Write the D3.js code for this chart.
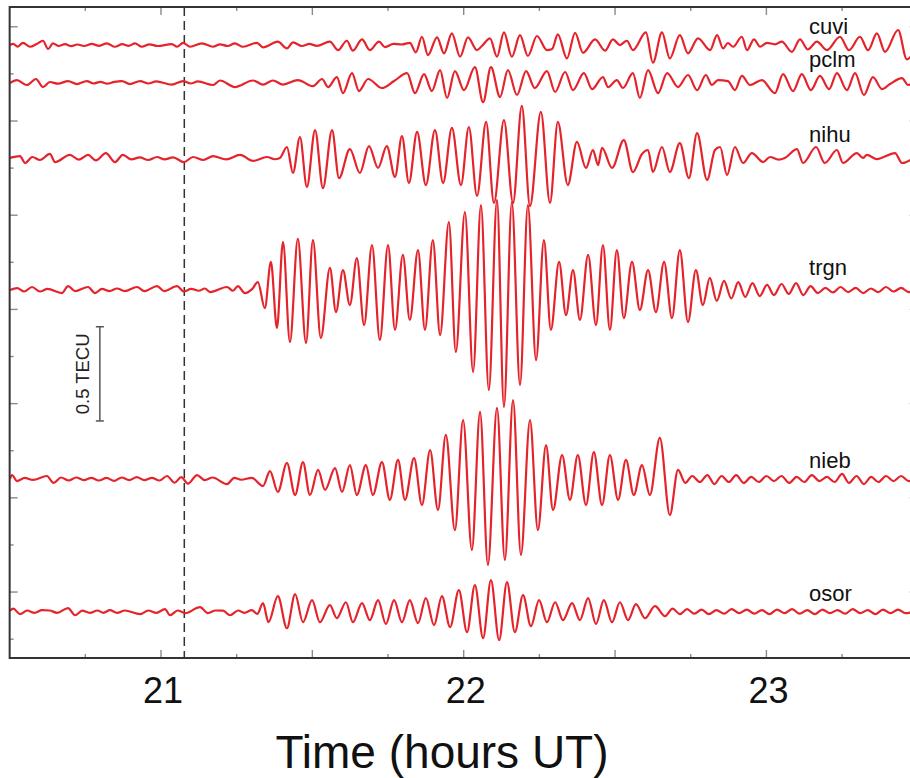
<!DOCTYPE html>
<html>
<head>
<meta charset="utf-8">
<script src="https://cdn.jsdelivr.net/npm/d3@7"></script>
<style>
  body { margin: 0; background: #fff; }
  svg { display: block; font-family: "Liberation Sans", Arial, Helvetica, sans-serif; }
</style>
</head>
<body>
<svg id="chart" width="910" height="778"></svg>
<script>
// Station names and their vertical offsets (TECU) on the stacked plot
const stations = ["cuvi", "pclm", "nihu", "trgn", "nieb", "osor"];
const offsets = [2.903, 2.704, 2.301, 1.603, 0.600, -0.104];

// Filtered TEC series, read as [time (hours UT), dTEC (TECU)] turning points
const cuvi = [[20.501,0.000],[20.512,0.006],[20.526,-0.008],[20.544,0.012],[20.567,-0.009],[20.589,0.005],[20.610,0.023],[20.627,-0.021],[20.643,0.009],[20.662,-0.005],[20.683,0.005],[20.704,-0.006],[20.724,0.003],[20.746,-0.005],[20.771,0.006],[20.796,-0.004],[20.821,0.009],[20.848,-0.009],[20.872,0.005],[20.893,-0.004],[20.914,0.009],[20.937,-0.009],[20.962,0.004],[20.988,-0.005],[21.036,0.005],[21.053,-0.009],[21.073,0.012],[21.096,-0.009],[21.135,0.009],[21.172,-0.009],[21.195,0.004],[21.220,-0.005],[21.244,0.009],[21.271,-0.009],[21.317,0.012],[21.337,-0.012],[21.386,0.018],[21.416,-0.018],[21.436,0.014],[21.466,-0.005],[21.490,0.006],[21.515,-0.004],[21.558,0.018],[21.585,-0.027],[21.614,0.023],[21.634,-0.030],[21.664,0.030],[21.690,-0.027],[21.720,0.018],[21.740,-0.011],[21.768,0.006],[21.795,0.003],[21.822,0.012],[21.842,-0.039],[21.862,0.044],[21.882,-0.053],[21.912,0.041],[21.935,-0.044],[21.961,0.062],[21.988,-0.062],[22.014,0.041],[22.044,-0.027],[22.060,-0.005],[22.087,0.036],[22.110,-0.062],[22.133,0.067],[22.159,-0.062],[22.186,0.053],[22.212,-0.058],[22.242,0.048],[22.275,-0.027],[22.292,-0.021],[22.311,0.057],[22.341,-0.071],[22.368,0.065],[22.394,-0.041],[22.434,0.030],[22.467,-0.030],[22.493,0.030],[22.516,0.000],[22.539,0.023],[22.559,-0.027],[22.602,0.067],[22.625,-0.094],[22.655,0.067],[22.681,-0.071],[22.714,0.053],[22.741,-0.044],[22.774,0.036],[22.814,-0.027],[22.837,0.053],[22.857,-0.018],[22.873,0.011],[22.890,-0.009],[22.919,0.044],[22.936,-0.027],[22.959,0.030],[22.979,-0.009],[23.002,0.012],[23.028,0.004],[23.051,0.018],[23.084,-0.036],[23.111,0.030],[23.137,-0.023],[23.167,0.018],[23.200,-0.027],[23.243,0.044],[23.273,-0.027],[23.309,0.044],[23.336,-0.027],[23.365,0.062],[23.392,-0.036],[23.435,0.080],[23.464,-0.076],[23.491,-0.027]];

const pclm = [[20.501,-0.003],[20.524,0.013],[20.557,-0.013],[20.587,0.019],[20.610,-0.024],[20.633,0.003],[20.660,-0.006],[20.693,0.008],[20.722,-0.008],[20.755,0.008],[20.777,-0.005],[20.800,0.004],[20.822,-0.006],[20.846,0.004],[20.871,0.008],[20.897,-0.008],[20.931,0.008],[20.958,-0.005],[20.984,0.006],[21.036,-0.011],[21.073,0.008],[21.098,-0.005],[21.122,0.006],[21.172,-0.013],[21.195,0.011],[21.244,-0.024],[21.304,0.011],[21.337,-0.011],[21.370,0.011],[21.403,-0.011],[21.452,0.013],[21.502,-0.019],[21.532,0.019],[21.552,-0.024],[21.581,0.029],[21.601,-0.056],[21.631,0.050],[21.654,-0.045],[21.684,0.019],[21.730,-0.029],[21.770,0.008],[21.813,0.050],[21.839,-0.056],[21.869,0.045],[21.895,-0.045],[21.922,0.066],[21.945,-0.082],[21.971,0.061],[22.001,-0.040],[22.037,0.082],[22.064,-0.104],[22.090,0.082],[22.120,-0.077],[22.146,0.066],[22.176,-0.066],[22.206,0.061],[22.235,-0.029],[22.275,0.061],[22.302,-0.050],[22.335,0.056],[22.361,-0.040],[22.397,0.050],[22.424,-0.035],[22.460,0.029],[22.477,-0.024],[22.506,0.013],[22.526,-0.029],[22.559,0.050],[22.582,-0.082],[22.609,0.066],[22.642,-0.056],[22.672,0.050],[22.708,-0.024],[22.741,0.040],[22.771,-0.040],[22.800,0.040],[22.820,-0.013],[22.840,0.013],[22.873,0.008],[22.896,-0.040],[22.919,0.035],[22.946,-0.013],[22.985,0.013],[23.028,-0.056],[23.055,0.045],[23.088,-0.045],[23.117,0.045],[23.147,-0.040],[23.177,0.035],[23.207,-0.035],[23.233,0.050],[23.266,-0.040],[23.293,0.050],[23.322,-0.066],[23.352,0.029],[23.382,-0.035],[23.408,-0.008],[23.448,0.024],[23.468,-0.013],[23.491,0.003]];

const nihu = [[20.501,0.003],[20.534,0.013],[20.551,-0.024],[20.575,0.008],[20.600,-0.008],[20.633,0.024],[20.650,-0.019],[20.699,0.019],[20.728,-0.006],[20.759,0.019],[20.785,-0.010],[20.818,0.029],[20.848,-0.019],[20.874,0.019],[20.902,-0.005],[20.930,0.006],[20.958,-0.008],[20.987,0.008],[21.012,-0.005],[21.040,0.006],[21.076,-0.019],[21.106,0.008],[21.140,-0.008],[21.172,0.013],[21.215,-0.005],[21.261,0.019],[21.304,-0.013],[21.350,0.008],[21.375,-0.004],[21.393,0.003],[21.416,0.061],[21.436,-0.077],[21.459,0.114],[21.482,-0.151],[21.509,0.151],[21.535,-0.157],[21.565,0.151],[21.588,-0.104],[21.624,0.050],[21.657,-0.077],[21.687,0.066],[21.717,-0.050],[21.746,0.066],[21.773,-0.098],[21.796,0.119],[21.819,-0.130],[21.846,0.141],[21.875,-0.141],[21.905,0.151],[21.932,-0.130],[21.961,0.162],[21.991,-0.141],[22.017,0.167],[22.044,-0.199],[22.074,0.194],[22.100,-0.236],[22.133,0.204],[22.163,-0.236],[22.192,0.279],[22.219,-0.252],[22.255,0.247],[22.285,-0.236],[22.311,0.194],[22.344,-0.141],[22.374,0.088],[22.404,-0.050],[22.427,0.045],[22.444,-0.035],[22.457,0.056],[22.490,-0.050],[22.529,0.098],[22.559,-0.072],[22.589,0.024],[22.609,0.045],[22.625,-0.072],[22.655,0.061],[22.681,-0.072],[22.714,0.082],[22.744,-0.104],[22.771,0.135],[22.804,-0.114],[22.830,0.045],[22.847,0.061],[22.870,-0.088],[22.896,0.061],[22.923,-0.024],[22.952,0.029],[22.989,-0.019],[23.012,0.008],[23.040,-0.006],[23.061,0.003],[23.101,0.050],[23.121,-0.024],[23.164,0.061],[23.193,-0.024],[23.233,0.045],[23.253,-0.024],[23.299,0.029],[23.319,0.003],[23.332,0.019],[23.365,-0.003],[23.425,0.029],[23.448,-0.024],[23.491,0.008]];

const trgn = [[20.501,0.000],[20.525,0.010],[20.548,-0.008],[20.574,0.016],[20.600,-0.008],[20.625,0.006],[20.673,-0.016],[20.693,0.021],[20.716,-0.006],[20.759,0.016],[20.782,-0.016],[20.805,0.006],[20.830,-0.006],[20.855,0.008],[20.880,-0.006],[20.921,0.016],[20.945,-0.006],[20.987,0.021],[21.010,-0.006],[21.053,0.021],[21.075,-0.008],[21.100,0.006],[21.125,-0.004],[21.145,0.008],[21.162,-0.011],[21.218,0.016],[21.238,-0.004],[21.254,0.021],[21.277,-0.016],[21.301,0.005],[21.320,0.042],[21.343,-0.096],[21.363,0.149],[21.383,-0.202],[21.403,0.255],[21.426,-0.276],[21.452,0.271],[21.479,-0.281],[21.502,0.265],[21.528,-0.255],[21.558,0.117],[21.578,-0.117],[21.601,0.106],[21.624,-0.080],[21.647,0.170],[21.671,-0.186],[21.697,0.239],[21.723,-0.265],[21.750,0.239],[21.773,-0.212],[21.799,0.186],[21.822,-0.159],[21.849,0.212],[21.872,-0.212],[21.898,0.265],[21.922,-0.239],[21.951,0.361],[21.974,-0.329],[22.004,0.414],[22.031,-0.435],[22.057,0.451],[22.083,-0.531],[22.110,0.478],[22.133,-0.621],[22.159,0.467],[22.186,-0.504],[22.212,0.451],[22.239,-0.372],[22.265,0.265],[22.288,-0.212],[22.315,0.149],[22.338,-0.133],[22.361,0.106],[22.384,-0.159],[22.411,0.186],[22.437,-0.186],[22.460,0.239],[22.483,-0.212],[22.506,0.212],[22.529,-0.149],[22.556,0.149],[22.582,-0.106],[22.609,0.106],[22.635,-0.117],[22.662,0.149],[22.688,-0.149],[22.714,0.212],[22.741,-0.170],[22.767,0.106],[22.790,-0.080],[22.813,0.064],[22.836,-0.058],[22.860,0.048],[22.884,-0.045],[22.907,0.042],[22.930,-0.037],[22.954,0.037],[22.978,-0.032],[23.002,0.027],[23.025,-0.027],[23.050,0.032],[23.074,-0.021],[23.098,0.037],[23.122,-0.027],[23.146,0.021],[23.170,-0.016],[23.195,0.011],[23.220,-0.013],[23.245,0.016],[23.270,-0.011],[23.295,0.011],[23.320,-0.016],[23.345,0.008],[23.370,-0.011],[23.395,0.016],[23.420,-0.008],[23.445,0.011],[23.470,-0.011],[23.491,0.003]];

const nieb = [[20.501,0.000],[20.508,0.021],[20.524,-0.011],[20.550,0.006],[20.577,-0.005],[20.623,0.016],[20.645,-0.021],[20.670,0.008],[20.695,-0.008],[20.720,0.008],[20.745,-0.006],[20.770,0.006],[20.795,-0.008],[20.820,0.006],[20.845,-0.010],[20.870,0.008],[20.895,-0.006],[20.920,0.010],[20.945,-0.006],[20.970,0.006],[20.995,-0.008],[21.020,0.016],[21.045,-0.020],[21.067,0.010],[21.089,-0.025],[21.119,0.021],[21.145,-0.006],[21.170,0.008],[21.218,-0.027],[21.242,0.006],[21.265,-0.004],[21.300,0.006],[21.337,-0.037],[21.360,0.042],[21.386,-0.069],[21.416,0.085],[21.443,-0.085],[21.469,0.090],[21.492,-0.085],[21.519,0.048],[21.542,-0.058],[21.575,0.058],[21.598,-0.069],[21.624,0.074],[21.647,-0.085],[21.677,0.074],[21.700,-0.085],[21.730,0.090],[21.756,-0.111],[21.783,0.101],[21.806,-0.111],[21.836,0.111],[21.862,-0.138],[21.889,0.154],[21.915,-0.165],[21.941,0.234],[21.971,-0.271],[21.998,0.313],[22.027,-0.377],[22.054,0.356],[22.080,-0.456],[22.110,0.377],[22.136,-0.430],[22.163,0.419],[22.189,-0.403],[22.219,0.313],[22.245,-0.271],[22.272,0.180],[22.295,-0.165],[22.325,0.127],[22.351,-0.111],[22.377,0.127],[22.404,-0.138],[22.430,0.143],[22.457,-0.138],[22.483,0.127],[22.510,-0.111],[22.536,0.101],[22.562,-0.085],[22.589,0.074],[22.615,-0.085],[22.648,0.218],[22.681,-0.191],[22.708,0.048],[22.732,-0.021],[22.755,0.016],[22.780,-0.016],[22.805,0.021],[22.828,-0.027],[22.852,0.016],[22.876,-0.016],[22.900,0.021],[22.925,-0.021],[22.950,0.011],[22.975,-0.016],[23.000,0.016],[23.025,-0.011],[23.050,0.016],[23.075,-0.021],[23.100,0.011],[23.125,-0.016],[23.150,0.021],[23.175,-0.011],[23.200,0.011],[23.225,-0.016],[23.250,0.027],[23.273,-0.021],[23.298,0.016],[23.322,-0.027],[23.346,0.011],[23.370,-0.016],[23.395,0.016],[23.420,-0.011],[23.445,0.016],[23.470,-0.011],[23.491,0.003]];

const osor = [[20.501,0.005],[20.512,0.016],[20.534,-0.013],[20.558,0.006],[20.582,-0.006],[20.607,0.008],[20.632,0.006],[20.657,-0.006],[20.693,0.019],[20.716,-0.019],[20.740,0.005],[20.765,-0.006],[20.790,0.006],[20.810,-0.006],[20.831,0.008],[20.855,-0.006],[20.880,0.006],[20.931,-0.013],[20.958,0.006],[20.985,-0.006],[21.013,0.013],[21.030,-0.019],[21.055,0.006],[21.080,-0.008],[21.129,0.024],[21.155,-0.008],[21.180,0.006],[21.205,0.005],[21.228,-0.019],[21.255,0.006],[21.275,-0.006],[21.300,0.008],[21.318,-0.012],[21.337,0.045],[21.355,-0.056],[21.386,0.082],[21.416,-0.088],[21.443,0.093],[21.469,-0.056],[21.499,0.061],[21.525,-0.056],[21.558,0.035],[21.581,-0.035],[21.611,0.050],[21.634,-0.056],[21.664,0.045],[21.690,-0.045],[21.717,0.061],[21.743,-0.066],[21.770,0.061],[21.796,-0.056],[21.822,0.061],[21.849,-0.061],[21.875,0.072],[21.902,-0.072],[21.928,0.082],[21.955,-0.082],[21.984,0.114],[22.011,-0.109],[22.037,0.141],[22.064,-0.141],[22.090,0.167],[22.117,-0.151],[22.143,0.157],[22.169,-0.109],[22.196,0.088],[22.222,-0.077],[22.249,0.061],[22.275,-0.056],[22.302,0.050],[22.328,-0.045],[22.358,0.045],[22.384,-0.045],[22.411,0.072],[22.437,-0.066],[22.463,0.061],[22.490,-0.056],[22.516,0.050],[22.543,-0.045],[22.569,0.040],[22.599,-0.035],[22.632,0.029],[22.665,-0.024],[22.690,0.016],[22.714,-0.013],[22.738,0.013],[22.762,-0.011],[22.786,0.011],[22.810,-0.013],[22.835,0.008],[22.860,-0.011],[22.885,0.013],[22.910,-0.008],[22.935,0.011],[22.960,-0.011],[22.985,0.008],[23.010,-0.013],[23.035,0.011],[23.060,-0.008],[23.085,0.013],[23.110,-0.011],[23.135,0.008],[23.160,-0.013],[23.185,0.011],[23.210,-0.008],[23.235,0.008],[23.260,-0.011],[23.285,0.013],[23.310,-0.008],[23.335,0.008],[23.360,-0.013],[23.385,0.011],[23.410,-0.008],[23.435,0.011],[23.460,-0.008],[23.491,0.003]];

const series = [cuvi, pclm, nihu, trgn, nieb, osor];

// Axis ticks
const xTickLabels = [21, 22, 23];
const xTicks = d3.range(20.75, 23.5, 0.25);
const yTicks = d3.range(-0.25, 3.01, 0.25);

// Event time (dashed line) and scale bar
const eventTime = 21.077;
const scaleBarTime = 20.798;
const scaleBarBottom = 0.908;
const scaleBarSize = 0.5;

const svg = d3.select("#chart");
const width = 910, height = 778;

svg.append("rect").attr("width", width).attr("height", height).attr("fill", "#fff");

const x = d3.scaleLinear().domain([20.5, 23.5]).range([9.65, 917.75]);
const y = d3.scaleLinear().domain([-0.35, 3.105]).range([658, 7]);

const plotLeft = x(20.5), plotRight = x(23.5), plotTop = y(3.105), plotBottom = y(-0.35);

svg.append("clipPath").attr("id", "plotClip")
  .append("rect")
  .attr("x", plotLeft).attr("y", plotTop)
  .attr("width", plotRight - plotLeft).attr("height", plotBottom - plotTop);

// Dashed event line
svg.append("line")
  .attr("x1", x(eventTime)).attr("x2", x(eventTime))
  .attr("y1", plotTop).attr("y2", plotBottom)
  .attr("stroke", "#333")
  .attr("stroke-width", 1.5)
  .attr("stroke-dasharray", "9,5");

// Traces
const traceGroup = svg.append("g").attr("clip-path", "url(#plotClip)");
series.forEach((data, i) => {
  const line = d3.line()
    .x(d => x(d[0]))
    .y(d => y(d[1] + offsets[i]))
    .curve(d3.curveMonotoneX);
  traceGroup.append("path")
    .datum(data)
    .attr("d", line)
    .attr("fill", "none")
    .attr("stroke", "#e5232b")
    .attr("stroke-width", 2.2)
    .attr("stroke-linejoin", "round");
});

// Station labels
const labelDy = [-11.5, -15.5, -16.5, -15.5, -10.5, -11];
stations.forEach((name, i) => {
  svg.append("text")
    .attr("x", x(23.141))
    .attr("y", y(offsets[i]) + labelDy[i])
    .attr("font-size", 22)
    .attr("fill", "#111")
    .text(name);
});

// Ticks on all four sides
const tickColor = "#8a8a8a";
const frame = svg.append("g");
xTicks.forEach(t => {
  const len = Math.abs(t * 2 - Math.round(t * 2)) < 1e-6 ? 8 : 4;
  frame.append("line").attr("x1", x(t)).attr("x2", x(t))
    .attr("y1", plotBottom).attr("y2", plotBottom - len)
    .attr("stroke", tickColor).attr("stroke-width", 1.4);
  frame.append("line").attr("x1", x(t)).attr("x2", x(t))
    .attr("y1", plotTop).attr("y2", plotTop + len)
    .attr("stroke", tickColor).attr("stroke-width", 1.4);
});
yTicks.forEach(v => {
  const len = Math.abs(v * 2 - Math.round(v * 2)) < 1e-6 ? 8 : 4;
  frame.append("line").attr("x1", plotLeft).attr("x2", plotLeft + len)
    .attr("y1", y(v)).attr("y2", y(v))
    .attr("stroke", tickColor).attr("stroke-width", 1.4);
  frame.append("line").attr("x1", plotRight).attr("x2", plotRight - len)
    .attr("y1", y(v)).attr("y2", y(v))
    .attr("stroke", tickColor).attr("stroke-width", 1.4);
});

// Frame
frame.append("rect")
  .attr("x", plotLeft).attr("y", plotTop)
  .attr("width", plotRight - plotLeft).attr("height", plotBottom - plotTop)
  .attr("fill", "none")
  .attr("stroke", "#333")
  .attr("stroke-width", 2);

// X tick labels
xTickLabels.forEach(t => {
  svg.append("text")
    .attr("x", x(t) + 2)
    .attr("y", 703)
    .attr("text-anchor", "middle")
    .attr("font-size", 36)
    .attr("fill", "#111")
    .text(t);
});

// X axis title
svg.append("text")
  .attr("x", 442)
  .attr("y", 768)
  .attr("text-anchor", "middle")
  .attr("font-size", 46)
  .attr("fill", "#111")
  .text("Time (hours UT)");

// Scale bar
const sbx = x(scaleBarTime);
const sbTop = y(scaleBarBottom + scaleBarSize), sbBottom = y(scaleBarBottom);
const sb = svg.append("g").attr("stroke", "#555").attr("stroke-width", 1.5);
sb.append("line").attr("x1", sbx).attr("x2", sbx).attr("y1", sbTop).attr("y2", sbBottom);
sb.append("line").attr("x1", sbx - 4).attr("x2", sbx + 4).attr("y1", sbTop).attr("y2", sbTop);
sb.append("line").attr("x1", sbx - 4).attr("x2", sbx + 4).attr("y1", sbBottom).attr("y2", sbBottom);

svg.append("text")
  .attr("transform", `translate(${sbx - 11},${(sbTop + sbBottom) / 2}) rotate(-90)`)
  .attr("text-anchor", "middle")
  .attr("font-size", 18.5)
  .attr("fill", "#222")
  .text(scaleBarSize + " TECU");
</script>
</body>
</html>
